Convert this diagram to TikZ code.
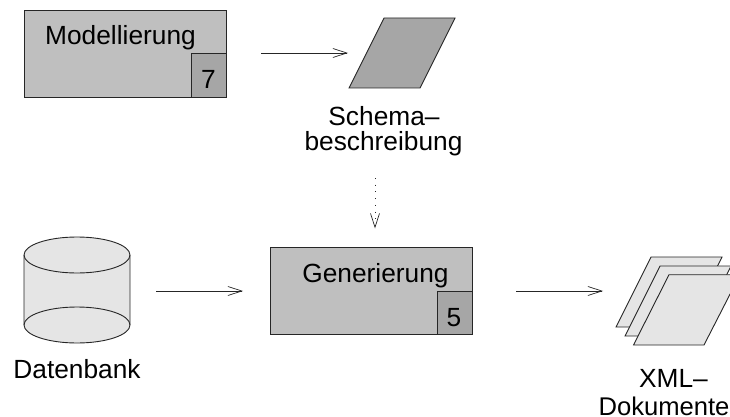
\documentclass[tikz,border=0pt]{standalone}
\usepackage{fontspec}
\setmainfont{Liberation Sans}
\usetikzlibrary{arrows.meta}
\definecolor{boxfill}{gray}{0.75}
\definecolor{tabfill}{gray}{0.65}
\definecolor{docfill}{gray}{0.9}
\tikzset{
  x=1pt,y=-1pt,
  every node/.style={inner sep=0pt,outer sep=0pt,font=\fontsize{26.3}{29}\selectfont},
  outl/.style={draw=black!85,line width=0.9pt,line join=miter},
  conn/.style={draw=black!85,line width=0.9pt,-{Straight Barb[length=14pt,width=9pt,line width=0.7pt]}},
  lbl/.style={anchor=base,align=center},
}
\begin{document}
\begin{tikzpicture}
\useasboundingbox (0,0) rectangle (730,417);
\clip (0,0) rectangle (730,417);
% Modellierung
\node[outl,fill=boxfill,minimum width=202pt,minimum height=87pt,anchor=north west] (modell) at (24,10) {};
\node[outl,fill=tabfill,minimum width=35pt,minimum height=44pt,anchor=south east] (modelltab) at (modell.south east) {};
\node[lbl] (modelltext) at (120.5,45) {Modellierung};
\node[lbl] (modellnum) at (208.5,88.5) {7};
% Schema
\coordinate (schemaw) at (348,53);
\draw[outl,fill=tabfill] (349,88) -- (384,18) -- (455,18) -- (420,88) -- cycle;
\node[lbl] (schematext) at (384,125) {Schema--};
\node[lbl] (schematext2) at (383.5,150.5) {beschreibung};
\coordinate (schemas) at (375,178);
% Generierung
\node[outl,fill=boxfill,minimum width=202pt,minimum height=87pt,anchor=north west] (gen) at (270,247) {};
\node[outl,fill=tabfill,minimum width=35pt,minimum height=43pt,anchor=south east] (gentab) at (gen.south east) {};
\node[lbl] (gentext) at (375.5,282) {Generierung};
\node[lbl] (gennum) at (454,326) {5};
\coordinate (genn) at (375,228.5);
% Datenbank
\draw[outl,fill=docfill] (24,255) -- (24,325) arc[start angle=180,end angle=360,x radius=53,y radius=-18] -- (130,255) arc[start angle=0,end angle=180,x radius=53,y radius=-18] -- cycle;
\draw[outl] (24,255) arc[start angle=180,end angle=360,x radius=53,y radius=-18];
\draw[outl] (24,325) arc[start angle=180,end angle=0,x radius=53,y radius=-18];
\node[lbl] (db) at (77,378) {Datenbank};
% Documents
\draw[outl,fill=docfill] (616,327) -- (651,257) -- (722,257) -- (687,327) -- cycle;
\draw[outl,fill=docfill] (625,336) -- (660,266) -- (731,266) -- (696,336) -- cycle;
\draw[outl,fill=docfill] (633.5,345) -- (669,274.7) -- (740,274.7) -- (704,345) -- cycle;
\node[lbl] (xml) at (673.5,387) {XML--};
\node[lbl,font=\fontsize{25.6}{29}\selectfont] (dok) at (664,415) {Dokumente};
% Connectors
\coordinate (a1s) at (261,53);
\coordinate (a3s) at (156,291);
\coordinate (a3e) at (243,291);
\coordinate (a4s) at (516,291);
\coordinate (a4e) at (603,291);
\draw[conn] (a1s) -- (schemaw);
\draw[conn,dash pattern=on 1pt off 5.7pt] (schemas) -- (genn);
\draw[conn] (a3s) -- (a3e);
\draw[conn] (a4s) -- (a4e);
\end{tikzpicture}
\end{document}
